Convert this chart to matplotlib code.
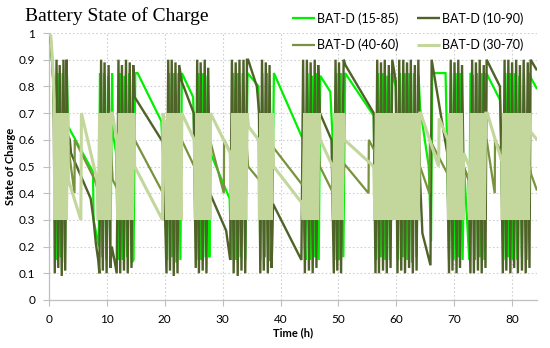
import matplotlib
matplotlib.use("Agg")
import matplotlib.pyplot as plt

# values: (time h, state of charge)
bat_15_85 = [
    (0, 1.0), (0.3, 0.97), (0.8, 0.8),
    (1.2, 0.15), (1.5, 0.85), (2.0, 0.16), (2.35, 0.85), (2.75, 0.14), (3.1, 0.84), (3.3, 0.65),
    (7.6, 0.48), (7.7, 0.3), (8.6, 0.2),
    (8.8, 0.85), (9.2, 0.16), (9.5, 0.85), (9.9, 0.15), (10.2, 0.84), (10.6, 0.15), (10.9, 0.85), (11.05, 0.62),
    (11.6, 0.55),
    (11.9, 0.15), (12.25, 0.85), (12.7, 0.15), (13.05, 0.84), (13.5, 0.16), (13.85, 0.85), (14.3, 0.14),
    (14.6, 0.15), (14.9, 0.85),
    (15.3, 0.85), (19.4, 0.67), (19.8, 0.5),
    (20.4, 0.15), (20.75, 0.85), (21.2, 0.16), (21.55, 0.85), (22.0, 0.14), (22.35, 0.85), (22.7, 0.15), (22.95, 0.85),
    (24.9, 0.76), (25.1, 0.6),
    (25.45, 0.15), (25.8, 0.85), (26.25, 0.15), (26.6, 0.85), (27.05, 0.16), (27.4, 0.84), (27.7, 0.16),
    (27.9, 0.55), (31.2, 0.38),
    (31.5, 0.15), (31.85, 0.85), (32.3, 0.15), (32.65, 0.85), (33.1, 0.16), (33.45, 0.85), (33.9, 0.15), (34.3, 0.85),
    (36.2, 0.8),
    (36.5, 0.15), (36.85, 0.85), (37.3, 0.16), (37.65, 0.85), (38.1, 0.15), (38.5, 0.15), (38.85, 0.85),
    (43.9, 0.6), (44.0, 0.3),
    (44.3, 0.15), (44.65, 0.85), (45.1, 0.15), (45.45, 0.84), (45.9, 0.16), (46.25, 0.85), (46.6, 0.15), (46.85, 0.84),
    (48.6, 0.78), (49.0, 0.6),
    (49.3, 0.15), (49.65, 0.85), (50.1, 0.15), (50.45, 0.85), (50.85, 0.16), (51.15, 0.85),
    (56.1, 0.69), (56.2, 0.5),
    (56.5, 0.15), (56.85, 0.85), (57.3, 0.16), (57.65, 0.85), (58.1, 0.15), (58.45, 0.84), (58.9, 0.15), (59.2, 0.85),
    (59.9, 0.8),
    (60.3, 0.15), (60.65, 0.85), (61.1, 0.16), (61.45, 0.85), (61.9, 0.15), (62.25, 0.85), (62.7, 0.14), (63.05, 0.85),
    (63.5, 0.16), (63.85, 0.84), (64.1, 0.72),
    (65.6, 0.5), (66.0, 0.22), (66.2, 0.85), (68.5, 0.85), (68.8, 0.55),
    (69.1, 0.15), (69.45, 0.85), (69.9, 0.15), (70.25, 0.85), (70.7, 0.16), (71.05, 0.85), (71.45, 0.15),
    (71.7, 0.5),
    (72.6, 0.15), (72.8, 0.85), (73.2, 0.84), (73.6, 0.15), (73.95, 0.85), (74.4, 0.16), (74.75, 0.85), (75.2, 0.15),
    (75.55, 0.85),
    (77.9, 0.75), (78.1, 0.55),
    (78.5, 0.15), (78.85, 0.85), (79.3, 0.16), (79.65, 0.85), (80.1, 0.15), (80.45, 0.85), (80.9, 0.15), (81.25, 0.84),
    (81.7, 0.16), (82.05, 0.85), (82.5, 0.15), (82.9, 0.85),
    (83.3, 0.83), (84.3, 0.79),
]

bat_10_90 = [
    (0, 1.0), (0.3, 0.98), (0.8, 0.8),
    (1.0, 0.1), (1.3, 0.9), (1.6, 0.12), (1.85, 0.88), (2.2, 0.09), (2.5, 0.9), (2.8, 0.11), (3.05, 0.9), (3.2, 0.62),
    (3.6, 0.6), (3.8, 0.55), (7.2, 0.38), (7.7, 0.3), (8.1, 0.21), (8.5, 0.15),
    (8.7, 0.1), (9.0, 0.9), (9.3, 0.11), (9.6, 0.89), (9.95, 0.1), (10.3, 0.88), (10.6, 0.12), (10.85, 0.2),
    (11.3, 0.15), (11.7, 0.1),
    (12.0, 0.9), (12.3, 0.1), (12.6, 0.88), (12.95, 0.11), (13.3, 0.9), (13.6, 0.1), (13.95, 0.89), (14.25, 0.12),
    (14.55, 0.88), (14.8, 0.76),
    (19.7, 0.59), (19.9, 0.45),
    (20.3, 0.1), (20.6, 0.9), (20.9, 0.11), (21.2, 0.9), (21.55, 0.09), (21.85, 0.89), (22.2, 0.1), (22.5, 0.88),
    (22.9, 0.82),
    (25.0, 0.7),
    (25.35, 0.12), (25.6, 0.9), (25.9, 0.1), (26.2, 0.89), (26.55, 0.11), (26.9, 0.9), (27.2, 0.1), (27.5, 0.87),
    (27.8, 0.4),
    (30.6, 0.26), (31.3, 0.15),
    (31.6, 0.9), (31.9, 0.1), (32.25, 0.89), (32.6, 0.09), (32.9, 0.9), (33.25, 0.11), (33.6, 0.9), (33.9, 0.1),
    (34.2, 0.9),
    (34.4, 0.9), (35.9, 0.8), (36.3, 0.7),
    (36.5, 0.1), (36.8, 0.9), (37.1, 0.11), (37.45, 0.89), (37.8, 0.1), (38.1, 0.88), (38.45, 0.12), (38.7, 0.36),
    (43.6, 0.15),
    (43.9, 0.9), (44.2, 0.1), (44.55, 0.9), (44.9, 0.11), (45.2, 0.89), (45.55, 0.1), (45.9, 0.9), (46.2, 0.12),
    (46.5, 0.88), (46.8, 0.7),
    (48.8, 0.6),
    (49.2, 0.1), (49.5, 0.9), (49.8, 0.11), (50.1, 0.89), (50.45, 0.1), (50.9, 0.9),
    (51.2, 0.88), (56.1, 0.7),
    (56.4, 0.1), (56.7, 0.9), (57.0, 0.1), (57.35, 0.89), (57.7, 0.11), (58.0, 0.9), (58.35, 0.1), (58.7, 0.88),
    (59.0, 0.12), (59.3, 0.9),
    (59.9, 0.82),
    (60.2, 0.1), (60.5, 0.9), (60.85, 0.11), (61.2, 0.9), (61.5, 0.1), (61.85, 0.89), (62.2, 0.12), (62.5, 0.9),
    (62.85, 0.1), (63.2, 0.88), (63.5, 0.11), (63.8, 0.9), (64.1, 0.45),
    (64.5, 0.25), (65.9, 0.13), (66.1, 0.9), (68.8, 0.55),
    (69.1, 0.1), (69.4, 0.9), (69.7, 0.11), (70.05, 0.89), (70.4, 0.1), (70.7, 0.9), (71.0, 0.12), (71.35, 0.88),
    (71.6, 0.5),
    (72.5, 0.45),
    (72.8, 0.1), (73.1, 0.9), (73.4, 0.1), (73.75, 0.89), (74.1, 0.11), (74.4, 0.9), (74.75, 0.1), (75.1, 0.88),
    (75.4, 0.12), (75.6, 0.9),
    (77.9, 0.8), (78.1, 0.6),
    (78.4, 0.1), (78.7, 0.9), (79.0, 0.11), (79.35, 0.9), (79.7, 0.1), (80.0, 0.89), (80.35, 0.12), (80.7, 0.9),
    (81.0, 0.1), (81.35, 0.88), (81.7, 0.11), (82.0, 0.9), (82.35, 0.1), (82.7, 0.89), (83.0, 0.12), (83.2, 0.9),
    (84.3, 0.86),
]

bat_40_60 = [
    (0, 1.0), (0.3, 0.98), (0.8, 0.8),
    (1.0, 0.4), (1.4, 0.6), (1.8, 0.4), (2.2, 0.6), (2.6, 0.4), (3.0, 0.6), (3.3, 0.58),
    (4.4, 0.4), (4.45, 0.6), (7.9, 0.45),
    (8.6, 0.4), (9.0, 0.6), (9.4, 0.4), (9.8, 0.6), (10.2, 0.4), (10.6, 0.6), (11.0, 0.45),
    (11.7, 0.42),
    (12.0, 0.6), (12.4, 0.4), (12.8, 0.6), (13.2, 0.4), (13.6, 0.6), (14.0, 0.4), (14.4, 0.6), (14.8, 0.6),
    (19.7, 0.4), (20.0, 0.45),
    (20.3, 0.6), (20.7, 0.4), (21.1, 0.6), (21.5, 0.4), (21.9, 0.6), (22.3, 0.4), (22.7, 0.6), (22.9, 0.6),
    (25.1, 0.5),
    (25.4, 0.4), (25.8, 0.6), (26.2, 0.4), (26.6, 0.6), (27.0, 0.4), (27.4, 0.6), (27.8, 0.6),
    (30.2, 0.4), (30.25, 0.6), (31.4, 0.55),
    (31.6, 0.4), (32.1, 0.6), (32.6, 0.4), (33.1, 0.6), (33.6, 0.4), (34.1, 0.6), (34.4, 0.5),
    (36.3, 0.45),
    (36.6, 0.6), (37.0, 0.4), (37.4, 0.6), (37.8, 0.4), (38.2, 0.6), (38.8, 0.57),
    (43.8, 0.43),
    (44.1, 0.6), (44.5, 0.4), (44.9, 0.6), (45.3, 0.4), (45.7, 0.6), (46.1, 0.4), (46.5, 0.6), (46.8, 0.5),
    (49.1, 0.4),
    (49.4, 0.6), (49.8, 0.4), (50.2, 0.6), (50.6, 0.4), (51.0, 0.51),
    (55.2, 0.4), (55.25, 0.6), (56.2, 0.56),
    (56.5, 0.4), (56.9, 0.6), (57.3, 0.4), (57.7, 0.6), (58.1, 0.4), (58.5, 0.6), (58.9, 0.4), (59.3, 0.6),
    (59.7, 0.4), (60.1, 0.6), (60.5, 0.4), (60.9, 0.6), (61.3, 0.4), (61.7, 0.6), (62.1, 0.4), (62.5, 0.6),
    (62.9, 0.4), (63.3, 0.6), (63.7, 0.4), (64.1, 0.5),
    (65.7, 0.4), (65.8, 0.6), (68.9, 0.47),
    (69.2, 0.6), (69.6, 0.4), (70.0, 0.6), (70.4, 0.4), (70.8, 0.6), (71.2, 0.4), (71.6, 0.5),
    (72.6, 0.45),
    (72.9, 0.6), (73.3, 0.4), (73.7, 0.6), (74.1, 0.4), (74.5, 0.6), (74.9, 0.4), (75.3, 0.6), (75.6, 0.6),
    (77.0, 0.4), (77.05, 0.6), (78.2, 0.55),
    (78.5, 0.4), (78.9, 0.6), (79.3, 0.4), (79.7, 0.6), (80.1, 0.4), (80.5, 0.6), (80.9, 0.4), (81.3, 0.6),
    (81.7, 0.4), (82.1, 0.6), (82.5, 0.4), (83.1, 0.5),
    (83.3, 0.47), (84.3, 0.41),
]

bat_30_70 = [
    (0, 1.0), (0.3, 0.99), (0.6, 0.9), (0.9, 0.75),
    (1.0, 0.3), (1.25, 0.7), (1.5, 0.3), (1.75, 0.7), (2.0, 0.3), (2.25, 0.7), (2.5, 0.3), (2.75, 0.7),
    (3.0, 0.3), (3.25, 0.7), (3.35, 0.45),
    (5.5, 0.3), (5.6, 0.7), (8.3, 0.45),
    (8.5, 0.3), (8.75, 0.7), (9.0, 0.3), (9.25, 0.7), (9.5, 0.3), (9.75, 0.7), (10.0, 0.3), (10.25, 0.7),
    (10.5, 0.3), (10.75, 0.7), (10.95, 0.7),
    (11.7, 0.6),
    (11.9, 0.3), (12.15, 0.7), (12.4, 0.3), (12.65, 0.7), (12.9, 0.3), (13.15, 0.7), (13.4, 0.3), (13.65, 0.7),
    (13.9, 0.3), (14.15, 0.7), (14.4, 0.3), (14.65, 0.7), (14.8, 0.5),
    (19.6, 0.3), (19.7, 0.7), (20.0, 0.65),
    (20.3, 0.3), (20.55, 0.7), (20.8, 0.3), (21.05, 0.7), (21.3, 0.3), (21.55, 0.7), (21.8, 0.3), (22.05, 0.7),
    (22.3, 0.3), (22.55, 0.7), (22.8, 0.3), (22.95, 0.7),
    (25.1, 0.6),
    (25.3, 0.3), (25.55, 0.7), (25.8, 0.3), (26.05, 0.7), (26.3, 0.3), (26.55, 0.7), (26.8, 0.3), (27.05, 0.7),
    (27.3, 0.3), (27.55, 0.7), (27.8, 0.3), (27.9, 0.7),
    (31.3, 0.55),
    (31.5, 0.3), (31.75, 0.7), (32.0, 0.3), (32.25, 0.7), (32.5, 0.3), (32.75, 0.7), (33.0, 0.3), (33.25, 0.7),
    (33.5, 0.3), (33.75, 0.7), (34.0, 0.3), (34.25, 0.7), (34.45, 0.65),
    (36.2, 0.6),
    (36.35, 0.3), (36.6, 0.7), (36.85, 0.3), (37.1, 0.7), (37.35, 0.3), (37.6, 0.7), (37.85, 0.3), (38.1, 0.7),
    (38.35, 0.3), (38.6, 0.7), (38.8, 0.5),
    (43.8, 0.36),
    (43.9, 0.3), (44.15, 0.7), (44.4, 0.3), (44.65, 0.7), (44.9, 0.3), (45.15, 0.7), (45.4, 0.3), (45.65, 0.7),
    (45.9, 0.3), (46.15, 0.7), (46.4, 0.3), (46.65, 0.7), (46.85, 0.6),
    (49.0, 0.5),
    (49.15, 0.3), (49.4, 0.7), (49.65, 0.3), (49.9, 0.7), (50.15, 0.3), (50.4, 0.7), (50.65, 0.3), (50.9, 0.7),
    (51.05, 0.6),
    (56.1, 0.5),
    (56.3, 0.3), (56.55, 0.7), (56.8, 0.3), (57.05, 0.7), (57.3, 0.3), (57.55, 0.7), (57.8, 0.3), (58.05, 0.7),
    (58.3, 0.3), (58.55, 0.7), (58.8, 0.3), (59.05, 0.7), (59.3, 0.3), (59.55, 0.7), (59.8, 0.3), (60.05, 0.7),
    (60.3, 0.3), (60.55, 0.7), (60.8, 0.3), (61.05, 0.7), (61.3, 0.3), (61.55, 0.7), (61.8, 0.3), (62.05, 0.7),
    (62.3, 0.3), (62.55, 0.7), (62.8, 0.3), (63.05, 0.7), (63.3, 0.3), (63.55, 0.7), (63.8, 0.3), (64.05, 0.7),
    (64.2, 0.7), (67.3, 0.5), (67.4, 0.68), (68.9, 0.6),
    (69.0, 0.3), (69.25, 0.7), (69.5, 0.3), (69.75, 0.7), (70.0, 0.3), (70.25, 0.7), (70.5, 0.3), (70.75, 0.7),
    (71.0, 0.3), (71.25, 0.7), (71.5, 0.3), (71.65, 0.55),
    (72.6, 0.5),
    (72.7, 0.3), (72.95, 0.7), (73.2, 0.3), (73.45, 0.7), (73.7, 0.3), (73.95, 0.7), (74.2, 0.3), (74.45, 0.7),
    (74.7, 0.3), (74.95, 0.7), (75.2, 0.3), (75.45, 0.7), (75.7, 0.7),
    (78.2, 0.52),
    (78.3, 0.3), (78.55, 0.7), (78.8, 0.3), (79.05, 0.7), (79.3, 0.3), (79.55, 0.7), (79.8, 0.3), (80.05, 0.7),
    (80.3, 0.3), (80.55, 0.7), (80.8, 0.3), (81.05, 0.7), (81.3, 0.3), (81.55, 0.7), (81.8, 0.3), (82.05, 0.7),
    (82.3, 0.3), (82.55, 0.7), (82.8, 0.3), (83.05, 0.7), (83.2, 0.63),
    (84.3, 0.6),
]

x_ticks = [0, 10, 20, 30, 40, 50, 60, 70, 80]
y_ticks = [0, 0.1, 0.2, 0.3, 0.4, 0.5, 0.6, 0.7, 0.8, 0.9, 1]
y_tick_labels = ["0", "0.1", "0.2", "0.3", "0.4", "0.5", "0.6", "0.7", "0.8", "0.9", "1"]

plt.rcParams["font.family"] = ["Lato", "DejaVu Sans"]

fig = plt.figure(figsize=(5.5, 3.48), dpi=100)
ax = fig.add_axes([49 / 550, 48 / 348, 488 / 550, 267 / 348])


def draw(data, color, lw, z, label):
    t = [p[0] for p in data]
    v = [p[1] for p in data]
    return ax.plot(t, v, color=color, lw=lw, zorder=z, label=label,
                   solid_joinstyle="miter", solid_capstyle="butt")[0]


l_bright = draw(bat_15_85, "#00f000", 1.6, 3, "BAT-D (15-85)")
l_dark = draw(bat_10_90, "#4f6228", 1.7, 4, "BAT-D (10-90)")
l_mid = draw(bat_40_60, "#77933c", 1.6, 5, "BAT-D (40-60)")
l_light = draw(bat_30_70, "#c3d69b", 2.2, 6, "BAT-D (30-70)")

ax.set_xlim(0, 84.3)
ax.set_ylim(0, 1)
ax.set_xticks(x_ticks)
ax.set_yticks(y_ticks)
ax.set_yticklabels(y_tick_labels)
ax.tick_params(labelsize=8.5, length=4, width=0.8, color="#bfbfbf", pad=6)
ax.grid(True, color="#d0d0d0", linestyle=(0, (1.5, 2)), linewidth=0.8, zorder=0)
ax.set_axisbelow(True)
for s in ["top", "right"]:
    ax.spines[s].set_visible(False)
for s in ["left", "bottom"]:
    ax.spines[s].set_color("#bfbfbf")
    ax.spines[s].set_linewidth(0.9)

ax.set_xlabel("Time (h)", fontsize=8, fontweight="bold", labelpad=2)
ax.set_ylabel("State of Charge", fontsize=8, fontweight="bold", labelpad=2)

fig.text(25 / 550, 1 - 16 / 348, "Battery State of Charge", family="Liberation Serif",
         fontsize=14, va="center", ha="left")

ax.legend([l_bright, l_mid, l_dark, l_light],
          ["BAT-D (15-85)", "BAT-D (40-60)", "BAT-D (10-90)", "BAT-D (30-70)"],
          ncol=2, loc="upper left", bbox_to_anchor=(292 / 550, 1 - 12 / 348),
          bbox_transform=fig.transFigure, frameon=False, fontsize=9,
          handlelength=1.8, handletextpad=0.2, columnspacing=1.5,
          labelspacing=1.15, borderpad=0, borderaxespad=0)

fig.savefig("out.png", dpi=100)
